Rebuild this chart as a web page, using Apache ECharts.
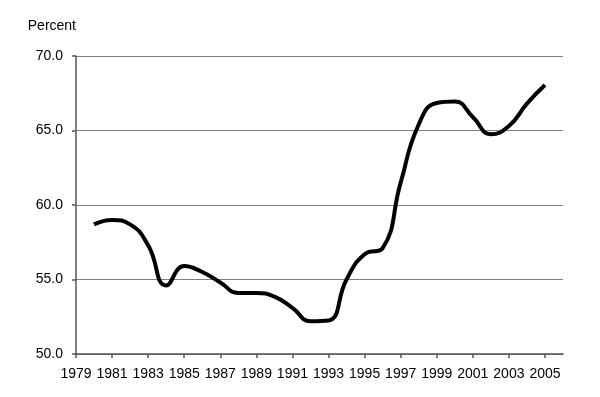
<!DOCTYPE html>
<html>
<head>
<meta charset="utf-8">
<script src="https://cdn.jsdelivr.net/npm/echarts@6/dist/echarts.min.js"></script>
<style>
  html, body { margin: 0; padding: 0; background: #fff; }
  #chart { width: 600px; height: 397px; }
</style>
</head>
<body>
<div id="chart"></div>
<script>
// axis categories (1979 and 2006 only frame the axis)
const axisYears = ['1979', '1980', '1981', '1982', '1983', '1984', '1985', '1986', '1987', '1988',
  '1989', '1990', '1991', '1992', '1993', '1994', '1995', '1996', '1997', '1998',
  '1999', '2000', '2001', '2002', '2003', '2004', '2005', '2006']

const years = ['1980', '1981', '1982', '1983', '1984', '1985', '1986', '1987', '1988', '1989',
  '1990', '1991', '1992', '1993', '1994', '1995', '1996', '1997', '1998', '1999',
  '2000', '2001', '2002', '2003', '2004', '2005']
const percent = [58.7, 59.0, 58.7, 57.3, 54.6, 55.9, 55.5, 54.8, 54.1, 54.1,
  53.85, 53.1, 52.2, 52.25, 55.0, 56.7, 57.1, 61.5, 65.4, 66.85,
  66.95, 65.9, 64.75, 65.3, 66.8, 68.05]

const yTicks = [50, 55, 60, 65, 70]

const chart = echarts.init(document.getElementById('chart'))

const option = {
  animation: false,
  textStyle: { fontFamily: 'Liberation Sans, Arial, sans-serif' },
  grid: {
    left: 76,
    right: 37,
    top: 56,
    bottom: 43
  },
  xAxis: {
    type: 'category',
    data: axisYears,
    boundaryGap: false,
    axisLine: { show: true, lineStyle: { color: '#555', width: 1.5 } },
    axisTick: { show: true, interval: 1, length: 4, lineStyle: { color: '#555', width: 1.5 } },
    axisLabel: {
      interval: 1,
      margin: 13,
      color: '#000',
      fontSize: 14,
      formatter: v => (v === '2006' ? '' : v)
    },
    splitLine: { show: false }
  },
  yAxis: {
    type: 'value',
    min: yTicks[0],
    max: yTicks[yTicks.length - 1],
    interval: 5,
    name: 'Percent',
    nameLocation: 'end',
    nameGap: 30,
    nameTextStyle: { color: '#000', fontSize: 14, align: 'right', verticalAlign: 'middle' },
    axisLine: { show: true, lineStyle: { color: '#555', width: 1.5 } },
    axisTick: { show: true, length: 4, lineStyle: { color: '#555', width: 1.5 } },
    axisLabel: {
      margin: 13,
      color: '#000',
      fontSize: 14,
      formatter: v => v.toFixed(1)
    },
    splitLine: { show: true, lineStyle: { color: '#808080', width: 1.2 } }
  },
  series: [{
    name: 'Percent',
    type: 'line',
    smooth: 0.5,
    symbol: 'none',
    lineStyle: { color: '#000', width: 4 },
    data: years.map((y, i) => [y, percent[i]])
  }]
}

chart.setOption(option)
</script>
</body>
</html>
